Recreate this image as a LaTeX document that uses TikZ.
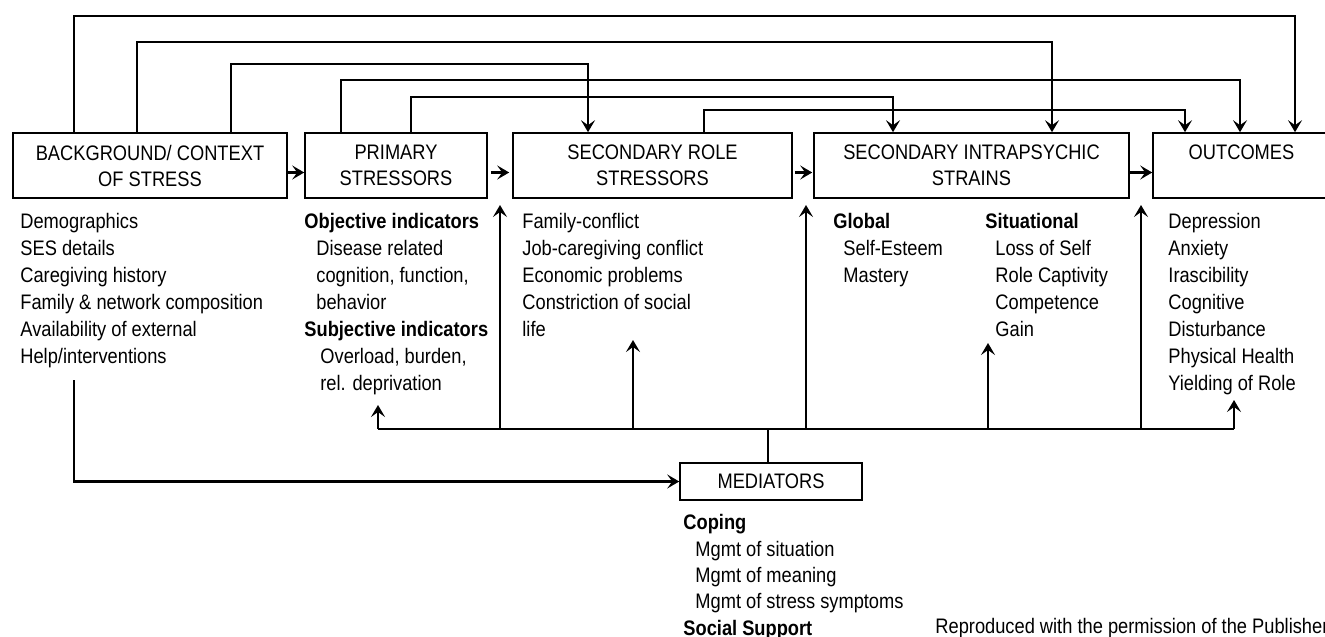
\documentclass[tikz,border=0pt]{standalone}
\usepackage{fontspec}
\setmainfont{Liberation Sans}[FakeStretch=0.87]
\usetikzlibrary{arrows.meta, positioning}

\begin{document}
\begin{tikzpicture}[x=0.5pt, y=-0.5pt,
        font=\fontsize{10.5}{13}\selectfont,
        stage/.style={draw, line width=0.8pt, minimum height=32.5pt, inner sep=0pt, align=center},
        items/.style={anchor=north west, inner sep=0pt, align=left, font=\fontsize{10.5}{13.5}\selectfont},
        link/.style={line width=1.1pt},
        tip/.style={-{Stealth[length=6pt, width=7pt, inset=2.5pt]}}]
        \useasboundingbox (0,0) rectangle (1325,636);

        % Stages
        \node[stage, minimum width=137pt] (bg) at (150,165.5) {BACKGROUND/ CONTEXT\\OF STRESS};
        \node[stage, minimum width=91pt] (prim) at (396,165.5) {PRIMARY\\STRESSORS};
        \node[stage, minimum width=139.5pt] (role) at (652.5,165.5) {SECONDARY ROLE\\STRESSORS};
        \node[stage, minimum width=157.5pt] (intra) at (971.5,165.5) {SECONDARY INTRAPSYCHIC\\STRAINS};
        \node[stage, minimum width=88.5pt] (out) at (1241.5,165.5) {OUTCOMES\\~};
        \node[stage, minimum width=91pt, minimum height=18.5pt] (med) at (771,481.5) {MEDIATORS};

        % Lists under the stages
        \node[items] (bgtext) at (20,213) {Demographics\\SES details\\Caregiving history\\Family \& network composition\\Availability of external\\Help/interventions};
        \node[items] (primtext) at (304,213) {\textbf{Objective indicators}\\\hspace*{6pt}Disease related\\\hspace*{6pt}cognition, function,\\\hspace*{6pt}behavior\\\textbf{Subjective indicators}\\\hspace*{8pt}Overload, burden,\\\hspace*{8pt}rel. deprivation};
        \node[items] (roletext) at (522,213) {Family-conflict\\Job-caregiving conflict\\Economic problems\\Constriction of social\\life};
        \node[items] (globtext) at (833,213) {\textbf{Global}\\\hspace*{5pt}Self-Esteem\\\hspace*{5pt}Mastery};
        \node[items] (sittext) at (985,213) {\textbf{Situational}\\\hspace*{5pt}Loss of Self\\\hspace*{5pt}Role Captivity\\\hspace*{5pt}Competence\\\hspace*{5pt}Gain};
        \node[items] (outtext) at (1168,213) {Depression\\Anxiety\\Irascibility\\Cognitive\\Disturbance\\Physical Health\\Yielding of Role};
        \node[items, font=\fontsize{10.5}{13.2}\selectfont] (medtext) at (683,514) {\textbf{Coping}\\\hspace*{6pt}Mgmt of situation\\\hspace*{6pt}Mgmt of meaning\\\hspace*{6pt}Mgmt of stress symptoms\\\textbf{Social Support}};
        \node[anchor=base west, inner sep=0pt] (note) at (935,633) {Reproduced with the permission of the Publisher};

        % Main chain
        \draw[link, tip] ([yshift=-3.5pt]bg.east) -- ([yshift=-3.5pt]prim.west);
        \draw[link, tip] ([xshift=1.5pt, yshift=-3.5pt]prim.east) -- ([xshift=-1.5pt, yshift=-3.5pt]role.west);
        \draw[link, tip] ([xshift=1pt, yshift=-3.5pt]role.east) -- ([xshift=-0.5pt, yshift=-3.5pt]intra.west);
        \draw[link, tip] ([yshift=-3.5pt]intra.east) -- ([yshift=-3.5pt]out.west);

        % Feedforward lines over the top
        \coordinate (a1) at (74,16);   \coordinate (b1) at (1295,16);
        \coordinate (a2) at (137,42);  \coordinate (b2) at (1052,42);
        \coordinate (a3) at (231,64);  \coordinate (b3) at (588,64);
        \coordinate (a4) at (341,80);  \coordinate (b4) at (1240,80);
        \coordinate (a5) at (411,97);  \coordinate (b5) at (893,97);
        \coordinate (a6) at (704,110); \coordinate (b6) at (1185,110);
        \draw[link, tip] (bg.north -| a1) -- (a1) -- (b1) -- (out.north -| b1);
        \draw[link, tip] (bg.north -| a2) -- (a2) -- (b2) -- (intra.north -| b2);
        \draw[link, tip] (bg.north -| a3) -- (a3) -- (b3) -- (role.north -| b3);
        \draw[link, tip] (prim.north -| a4) -- (a4) -- (b4) -- (out.north -| b4);
        \draw[link, tip] (prim.north -| a5) -- (a5) -- (b5) -- (intra.north -| b5);
        \draw[link, tip] (role.north -| a6) -- (a6) -- (b6) -- (out.north -| b6);

        % Mediator bus
        \coordinate (mj) at (768,429);
        \coordinate (u1) at (378,405);
        \coordinate (u2) at (500,205);
        \coordinate (u3) at (633,340);
        \coordinate (u4) at (806,205);
        \coordinate (u5) at (988,343);
        \coordinate (u6) at (1141,205);
        \coordinate (u7) at (1234,400);
        \draw[link] (u1 |- mj) -- (u7 |- mj);
        \draw[link] (med.north -| mj) -- (mj);
        \draw[link, tip] (u1 |- mj) -- (u1);
        \draw[link, tip] (u2 |- mj) -- (u2);
        \draw[link, tip] (u3 |- mj) -- (u3);
        \draw[link, tip] (u4 |- mj) -- (u4);
        \draw[link, tip] (u5 |- mj) -- (u5);
        \draw[link, tip] (u6 |- mj) -- (u6);
        \draw[link, tip] (u7 |- mj) -- (u7);

        % Background into mediators
        \coordinate (h) at (74,380);
        \draw[link, tip] (h) |- (med.west);
\end{tikzpicture}
\end{document}
